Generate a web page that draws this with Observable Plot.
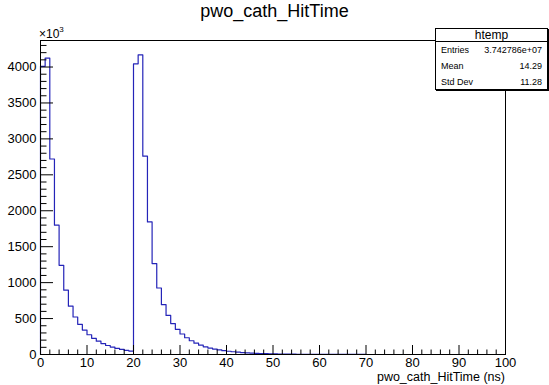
<!DOCTYPE html>
<html>
<head>
<meta charset="utf-8">
<script src="https://cdn.jsdelivr.net/npm/d3@7"></script>
<script src="https://cdn.jsdelivr.net/npm/@observablehq/plot@0.6"></script>
<style>
  body { margin: 0; background: white; }
  #wrap { position: relative; width: 549px; height: 385px; font-family: "Liberation Sans", Arial, Helvetica, sans-serif; color: black; }
  .abs { position: absolute; white-space: nowrap; }
  #title { left: 0; width: 549px; text-align: center; top: 1px; font-size: 18px; }
  #mult { left: 39px; top: 26px; font-size: 12px; }
  #mult sup { font-size: 8px; position: relative; top: -1px; }
  #xlabel { right: 44px; top: 371px; font-size: 12.5px; line-height: 12px; }
  #stats { left: 435px; top: 28px; width: 111px; height: 60px; border: 1px solid black; background: white; box-shadow: 1px 1px 0 #000; }
  #stats .hdr { height: 12px; border-bottom: 1px solid black; text-align: center; font-size: 12px; line-height: 12px; }
  #stats .row { position: relative; height: 16px; font-size: 9px; line-height: 16px; }
  #stats .row .k { position: absolute; left: 5px; }
  #stats .row .v { position: absolute; right: 5px; }
</style>
</head>
<body>
<div id="wrap"></div>
<script>
// ---- data ----
const histTitle = "pwo_cath_HitTime";
const xAxisTitle = "pwo_cath_HitTime (ns)";
const xMin = 0, xMax = 100;
// bin contents (units of 10^3), 1 ns bins from 0 to 100
const counts = [
  4010, 4125, 2720, 1800, 1241, 895, 672, 522, 420, 340,
  275, 225, 185, 152, 125, 103, 85, 70, 58, 48,
  4045, 4170, 2760, 1845, 1265, 925, 693, 544, 430, 350,
  285, 233, 191, 158, 130, 107, 89, 75, 63, 53,
  45, 38, 32, 27, 23, 19.5, 16.5, 14, 12, 10,
  8.5, 7.2, 6.1, 5.2, 4.4, 3.7, 3.1, 2.6, 2.2, 1.9,
  1.6, 1.4, 1.2, 1.0, 0.85, 0.72, 0.61, 0.52, 0.44, 0.37,
  0.31, 0.26, 0.22, 0.19, 0.16, 0.14, 0.12, 0.1, 0.08, 0.07,
  0.06, 0.05, 0.04, 0.04, 0.03, 0.03, 0.02, 0.02, 0.02, 0.01,
  0.01, 0.01, 0.01, 0, 0, 0, 0, 0, 0, 0
];
const yMaxShown = 4369;
const xMajorTicks = [0, 10, 20, 30, 40, 50, 60, 70, 80, 90, 100];
const xMinorTicks = [2,4,6,8,12,14,16,18,22,24,26,28,32,34,36,38,42,44,46,48,52,54,56,58,62,64,66,68,72,74,76,78,82,84,86,88,92,94,96,98];
const yMajorTicks = [0, 500, 1000, 1500, 2000, 2500, 3000, 3500, 4000];
const yMinorTicks = [100,200,300,400,600,700,800,900,1100,1200,1300,1400,1600,1700,1800,1900,2100,2200,2300,2400,2600,2700,2800,2900,3100,3200,3300,3400,3600,3700,3800,3900,4100,4200,4300];
const statName = "htemp";
const statKeys = ["Entries", "Mean", "Std Dev"];
const statVals = ["3.742786e+07", "14.29", "11.28"];

// ---- build ----
const W = 549, H = 385, mL = 40, mR = 44, mT = 40, mB = 31;
const frameW = W - mL - mR, frameH = H - mT - mB;
const binW = (xMax - xMin) / counts.length;
const pts = [{x: xMin, y: 0}];
counts.forEach((c, i) => pts.push({x: xMin + i * binW, y: c}));
pts.push({x: xMax, y: counts[counts.length - 1]});
pts.push({x: xMax, y: 0});

const chart = Plot.plot({
  width: W, height: H,
  marginLeft: mL, marginRight: mR, marginTop: mT, marginBottom: mB,
  x: {domain: [xMin, xMax]},
  y: {domain: [0, yMaxShown]},
  style: {fontFamily: "'Liberation Sans', Arial, Helvetica, sans-serif", fontSize: "13px", color: "black", background: "white"},
  marks: [
    Plot.line(pts, {x: "x", y: "y", curve: "step-after", stroke: "#2424b8", strokeWidth: 1.2}),
    Plot.frame({stroke: "black", strokeWidth: 1}),
    Plot.tickY(yMajorTicks, {y: d => d, insetRight: frameW - 13, stroke: "black"}),
    Plot.tickY(yMinorTicks, {y: d => d, insetRight: frameW - 6.5, stroke: "black"}),
    Plot.tickX(xMajorTicks, {x: d => d, insetTop: frameH - 9, stroke: "black"}),
    Plot.tickX(xMinorTicks, {x: d => d, insetTop: frameH - 4.5, stroke: "black"}),
    Plot.axisX({ticks: xMajorTicks, tickSize: 0, tickPadding: 3, label: null, tickFormat: d => String(d)}),
    Plot.axisY({ticks: yMajorTicks, tickSize: 0, tickPadding: 4, label: null, tickFormat: d => String(d)})
  ]
});

const wrap = document.getElementById("wrap");
wrap.appendChild(chart);

function addDiv(id, html) {
  const d = document.createElement("div");
  d.id = id; d.className = "abs"; d.innerHTML = html;
  wrap.appendChild(d);
  return d;
}
addDiv("title", histTitle);
addDiv("mult", "×10<sup>3</sup>");
addDiv("xlabel", xAxisTitle);
let statsHtml = `<div class="hdr">${statName}</div>`;
statKeys.forEach((k, i) => {
  statsHtml += `<div class="row"><span class="k">${k}</span><span class="v">${statVals[i]}</span></div>`;
});
addDiv("stats", statsHtml);
</script>
</body>
</html>
